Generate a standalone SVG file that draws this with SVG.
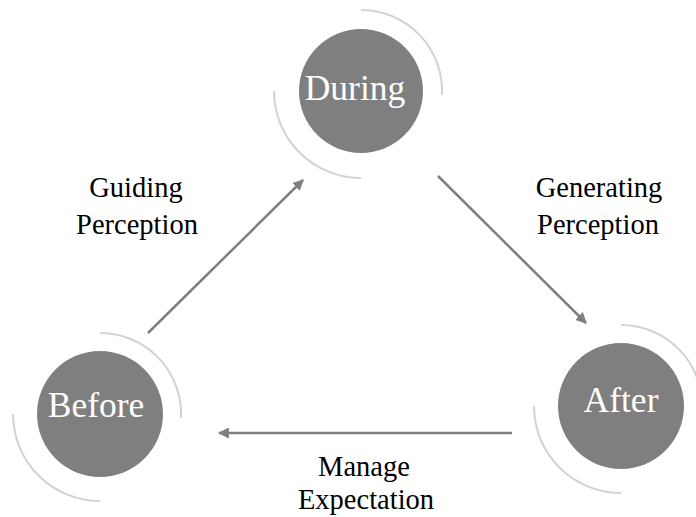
<svg xmlns="http://www.w3.org/2000/svg" width="696" height="517" viewBox="0 0 696 517">
  <style>
    .disc { fill: #7f7f7f; }
    .ring { fill: none; stroke: #d2d2d2; stroke-width: 2; }
    .name { font-family: "Liberation Serif", "Times New Roman", serif; font-size: 35.5px; fill: #ffffff; text-anchor: middle; }
    .label { font-family: "Liberation Serif", "Times New Roman", serif; font-size: 28.5px; fill: #000000; text-anchor: middle; }
    .link { fill: none; stroke: #7f7f7f; stroke-width: 2.5; marker-end: url(#head); }
  </style>
  <defs>
    <marker id="head" viewBox="0 0 10 10" refX="9" refY="5" markerWidth="4.4" markerHeight="4.4" orient="auto" markerUnits="strokeWidth">
      <path d="M0,0 L10,5 L0,10 Z" fill="#7f7f7f"/>
    </marker>
  </defs>
  <rect width="696" height="517" fill="#ffffff"/>

  <!-- phase nodes -->
  <g id="during">
    <path class="ring" d="M361,10 A81,81 0 0 1 442,95"/>
    <path class="ring" d="M274,91 A87,87 0 0 0 361,178"/>
    <circle class="disc" cx="361" cy="91" r="62"/>
    <text class="name" x="355" y="100">During</text>
  </g>
  <g id="before">
    <path class="ring" d="M100,333 A81,81 0 0 1 181,418"/>
    <path class="ring" d="M13,414 A87,87 0 0 0 100,501"/>
    <circle class="disc" cx="100" cy="414" r="63"/>
    <text class="name" x="96" y="417">Before</text>
  </g>
  <g id="after">
    <path class="ring" d="M621,325 A81,81 0 0 1 702,410"/>
    <path class="ring" d="M534,406 A87,87 0 0 0 621,493"/>
    <circle class="disc" cx="621" cy="406" r="63"/>
    <text class="name" x="621" y="412">After</text>
  </g>

  <!-- connectors -->
  <g id="connectors">
    <line class="link" x1="148" y1="333" x2="303" y2="180"/>
    <line class="link" x1="438" y1="176" x2="586" y2="323"/>
    <line class="link" x1="512" y1="433" x2="219" y2="433"/>
  </g>

  <!-- connector labels -->
  <g id="labels">
    <text class="label" x="136" y="197">Guiding</text>
    <text class="label" x="137" y="234">Perception</text>
    <text class="label" x="599" y="197">Generating</text>
    <text class="label" x="598" y="234">Perception</text>
    <text class="label" x="364" y="476">Manage</text>
    <text class="label" x="366" y="509">Expectation</text>
  </g>
</svg>
